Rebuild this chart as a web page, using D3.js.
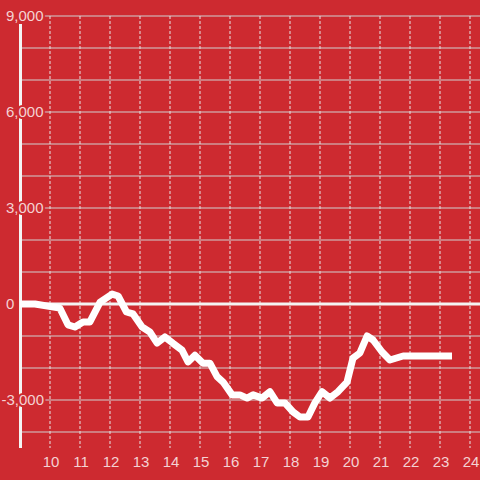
<!DOCTYPE html>
<html>
<head>
<meta charset="utf-8">
<script src="https://cdn.jsdelivr.net/npm/d3@7"></script>
<style>
html,body{margin:0;padding:0;background:#cd2a30;}
svg{display:block;}
text{font-family:"Liberation Sans",Arial,sans-serif;}
</style>
</head>
<body>
<svg id="chart" width="480" height="480"></svg>
<script>
const times = [9.0, 9.5, 10.33, 10.6, 10.83, 11.1, 11.33, 11.67, 12.07, 12.27, 12.55, 12.77, 13.07, 13.33, 13.57, 13.83, 14.1, 14.4, 14.6, 14.83, 15.1, 15.33, 15.57, 15.77, 16.07, 16.33, 16.57, 16.77, 17.07, 17.33, 17.57, 17.83, 18.1, 18.33, 18.6, 18.83, 19.07, 19.33, 19.6, 19.9, 20.1, 20.33, 20.57, 20.77, 21.07, 21.33, 21.77, 22.1, 23.4];
const values = [0, 0, -130, -650, -720, -560, -560, 60, 310, 250, -250, -310, -720, -875, -1220, -1030, -1230, -1440, -1810, -1600, -1850, -1850, -2270, -2440, -2840, -2840, -2940, -2840, -2940, -2740, -3090, -3090, -3370, -3530, -3530, -3090, -2740, -2940, -2740, -2440, -1690, -1530, -1000, -1125, -1500, -1750, -1625, -1625, -1625];
const xTicks = [10, 11, 12, 13, 14, 15, 16, 17, 18, 19, 20, 21, 22, 23, 24];
const yGrid = [-4000, -3000, -2000, -1000, 0, 1000, 2000, 3000, 4000, 5000, 6000, 7000, 8000, 9000];
const yLabels = [-3000, 0, 3000, 6000, 9000];

const bg = "#cd2a30";
const labelColor = "#f4d2d3";
const svg = d3.select("#chart");
const x = d3.scaleLinear().domain([9, 24]).range([20, 470]);
const y = d3.scaleLinear().domain([-4000, 9000]).range([432, 16]);

// horizontal grid
svg.append("g").selectAll("line").data(yGrid.filter(v => v !== 0)).join("line")
  .attr("x1", 20).attr("x2", 480)
  .attr("y1", d => y(d)).attr("y2", d => y(d))
  .attr("stroke", "#d0d0d0").attr("stroke-width", 1);

// vertical dashed grid
svg.append("g").selectAll("line").data(xTicks).join("line")
  .attr("x1", d => x(d)).attr("x2", d => x(d))
  .attr("y1", 16).attr("y2", 448)
  .attr("stroke", "#e6e6e6").attr("stroke-width", 1)
  .attr("stroke-dasharray", "3,2");

// zero line
svg.append("line")
  .attr("x1", 20).attr("x2", 480)
  .attr("y1", y(0)).attr("y2", y(0))
  .attr("stroke", "#f4f4f4").attr("stroke-width", 3);

// y axis line
svg.append("line")
  .attr("x1", 20.5).attr("x2", 20.5)
  .attr("y1", 24).attr("y2", 448)
  .attr("stroke", "#f4f4f4").attr("stroke-width", 3);

// y labels
const fmt = d3.format(",");
const yl = svg.append("g").selectAll("text").data(yLabels).join("text")
  .attr("y", d => y(d))
  .attr("dy", "0.35em")
  .attr("font-size", 15)
  .attr("fill", labelColor)
  .attr("stroke", bg).attr("stroke-width", 4)
  .attr("paint-order", "stroke")
  .attr("text-anchor", "start")
  .text(d => fmt(d).replace("−", "-"));
const minusW = 4.5;
yl.attr("x", d => d < 0 ? 6 - minusW : 6);

// x labels
svg.append("g").selectAll("text").data(xTicks).join("text")
  .attr("x", d => x(d) + 1)
  .attr("y", 467)
  .attr("font-size", 15)
  .attr("fill", labelColor)
  .attr("text-anchor", "middle")
  .text(d => d);

// data line
const line = d3.line().x((d, i) => x(times[i])).y(d => y(d));
svg.append("path")
  .datum(values)
  .attr("d", line)
  .attr("fill", "none")
  .attr("stroke", "#ffffff")
  .attr("stroke-width", 7)
  .attr("stroke-linejoin", "round")
  .attr("stroke-linecap", "butt");
</script>
</body>
</html>
